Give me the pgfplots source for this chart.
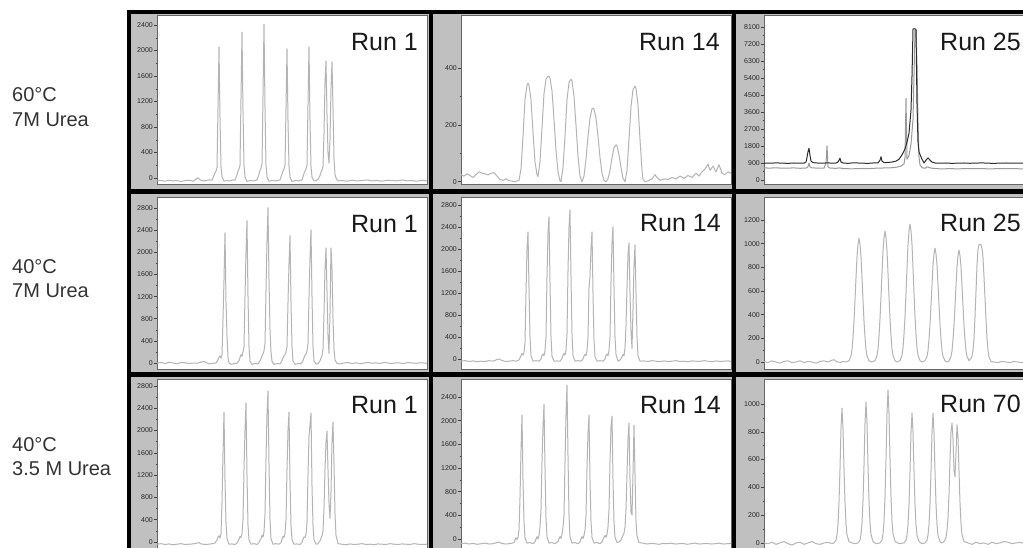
\documentclass[border=0pt]{standalone}
\usepackage{fontspec}
\setmainfont{Liberation Sans}
\usepackage{pgfplots}
\pgfplotsset{compat=1.18}
\definecolor{stripgray}{RGB}{192,192,192}
\definecolor{tracegray}{RGB}{180,180,180}
\definecolor{darktrace}{RGB}{45,45,45}
\pgfplotsset{
  panel/.style={
    scale only axis, width=270pt, anchor=south west,
    axis background/.style={fill=white},
    axis line style={draw=black!60, line width=0.6pt},
    xtick=\empty, ytick pos=left, tick align=outside,
    major tick length=3pt, minor tick length=1.5pt, minor y tick num=1,
    every tick/.style={black!75, line width=0.5pt},
    yticklabel style={font=\fontsize{7}{8}\selectfont, text=black!85, inner sep=1pt},
    /pgf/number format/1000 sep={},
    /pgf/number format/assume math mode=true,
    enlargelimits=false, clip=true,
  },
  col1/.style={xmin=157, xmax=427},
  col2/.style={xmin=461, xmax=731},
  col3/.style={xmin=764, xmax=1034},
  trace/.style={color=tracegray, line width=1pt, mark=none, line join=round},
}
\begin{document}
\begin{tikzpicture}
\begin{scope}
\clip (0pt,0pt) rectangle (1023pt,-548pt);
\fill[stripgray] (127pt,-10pt) rectangle (1023pt,-548pt);

% ---------------- Row 1 ----------------
\begin{axis}[panel, col1, at={(157pt,-184pt)}, height=169pt,
  ymin=-94, ymax=2557, ytick={0,400,...,2400}]
\addplot[trace] coordinates {
(157,-45)(161,-40)(165,-50)(169,-35)(173,-45)(177,-40)(181,-55)(185,-40)(189,-35)(193,-50)(196,-20)(198,5)(200,-30)(203,-45)(206,-40)(209,-30)
(212,-35)(214,40)(215,80)(216,110)(217,160)(218,1100)(219,2055)(220,950)(221,180)(222,20)(224,-50)
(227,-40)(230,-45)(233,-30)
(235,-35)(237,50)(238,110)(239,140)(240,200)(241,1250)(242,2290)(243,1050)(244,200)(245,20)(247,-55)
(250,-40)(254,-45)
(257,-30)(259,60)(260,120)(261,150)(262,220)(263,1300)(264,2415)(265,1100)(266,200)(267,20)(269,-50)
(272,-40)(276,-45)
(280,-30)(282,60)(283,110)(284,140)(285,200)(286,1100)(287,2024)(288,900)(289,180)(290,15)(292,-55)
(295,-40)(299,-45)
(302,-30)(304,70)(305,110)(306,140)(307,200)(308,1150)(309,2055)(310,900)(311,180)(312,15)(314,-45)
(316,-40)(318,-20)
(320,40)(321,90)(322,120)(323,180)(324,700)(325,1500)(326,1835)(327,1000)(328,400)(329,235)(330,600)(331,1400)(332,1820)(333,1100)(334,300)(335,60)(336,0)(338,-45)
(342,-40)(347,-50)(352,-35)(357,-45)(362,-40)(367,-30)(372,-45)(377,-40)(382,-50)(387,-35)(392,-40)(397,-45)(402,-30)(407,-45)(412,-40)(417,-50)(422,-35)(427,-45)
};
\end{axis}

\begin{axis}[panel, col2, at={(461pt,-184pt)}, height=169pt,
  ymin=-8, ymax=588, ytick={0,200,400}]
\addplot[trace] coordinates {
(461,25)(464,20)(467,28)(470,22)(473,15)(476,25)(479,35)(482,30)(485,28)(488,24)(491,30)(494,32)(497,20)(500,8)(503,5)(506,10)(509,4)(512,2)(515,0)(517,3)
(519,5)(521,45)(523,160)(525,290)(527,340)(528,347)(529,340)(531,290)(533,175)(535,70)(537,25)(538,18)
(540,70)(542,190)(544,310)(546,362)(548,372)(549,372)(550,365)(552,320)(554,220)(556,110)(558,35)(560,3)(561,0)
(563,50)(565,160)(567,290)(569,350)(571,361)(572,356)(574,300)(576,200)(578,90)(580,20)(582,0)
(584,20)(586,80)(588,160)(590,225)(592,257)(593,260)(594,256)(596,225)(598,160)(600,85)(602,30)(604,5)(606,0)
(608,10)(610,40)(612,85)(614,120)(616,130)(617,126)(619,95)(621,50)(623,12)(625,0)
(627,40)(629,150)(631,265)(633,325)(635,337)(636,330)(638,270)(640,150)(642,40)(643,8)(645,0)
(648,3)(652,10)(655,25)(657,15)(660,5)(664,10)(668,8)(672,15)(676,10)(680,20)(684,12)(688,22)(692,15)(696,30)(699,20)(702,35)(705,45)(708,62)(710,40)(713,55)(716,35)(719,60)(722,30)(725,25)(728,35)(731,30)
};
\end{axis}

\begin{axis}[panel, col3, at={(764pt,-184pt)}, height=169pt,
  ymin=-212, ymax=8735, ytick={0,900,...,8100}]
\addplot[trace, color=tracegray!85!black] coordinates {
(764,640)(770,630)(776,645)(782,625)(788,630)(794,640)(800,620)(806,630)(808,700)(809,900)(810,700)(812,640)(818,630)(824,625)(826,900)(827,1800)(828,700)(830,625)(836,620)(840,640)(842,610)(846,600)(852,590)(856,600)(862,610)(868,600)(874,620)(880,630)(886,640)(892,650)(897,680)(901,740)(904,850)(905,1200)(906,4320)(907,1100)(909,1300)(911,1900)(913,3200)(915,7950)(916,7950)(917,6100)(918,3000)(919,1200)(920,800)(922,650)(925,620)(927,700)(930,640)(936,600)(942,590)(950,600)(958,590)(966,605)(974,595)(982,600)(990,590)(998,600)(1006,595)(1014,600)(1022,590)(1034,595)
};
\addplot[trace, color=darktrace, line width=1pt] coordinates {
(764,900)(770,890)(776,905)(782,895)(788,880)(794,900)(800,890)(804,895)(806,950)(807,1200)(808,1500)(809,1680)(810,1300)(811,1000)(813,920)(817,900)(822,890)(827,905)(832,895)(836,900)(838,950)(840,1150)(841,950)(843,900)(848,880)(853,910)(858,900)(863,890)(868,880)(873,900)(878,900)(880,1050)(881,1230)(882,1000)(884,920)(888,930)(892,950)(896,1000)(899,1100)(901,1250)(903,1430)(905,1650)(907,2000)(909,2480)(911,3700)(912,5500)(913,7990)(914,8010)(915,8000)(916,7950)(917,4000)(918,2000)(919,1500)(920,1350)(922,1100)(924,900)(926,1050)(928,1170)(930,1050)(932,950)(935,900)(940,890)(946,900)(952,880)(958,895)(964,900)(970,885)(976,895)(982,905)(988,890)(994,880)(1000,895)(1006,900)(1012,890)(1018,895)(1024,890)(1034,900)
};
\end{axis}

% ---------------- Row 2 ----------------
\begin{axis}[panel, col1, at={(157pt,-369pt)}, height=172pt,
  ymin=-108, ymax=2999, ytick={0,400,...,2800}]
\addplot[trace] coordinates {
(157,0)(161,10)(165,-10)(169,15)(173,0)(177,-15)(181,10)(185,5)(189,-10)(193,0)(197,-5)(201,15)(204,30)(206,10)(209,-15)(213,-5)
(216,0)(218,60)(219,100)(220,130)(221,90)(222,150)(223,800)(224,1500)(225,2353)(226,1100)(227,500)(228,100)(229,0)(231,-25)
(234,-10)(237,-5)
(239,40)(240,100)(241,150)(242,120)(243,200)(244,300)(245,1200)(246,2000)(247,2570)(248,1200)(249,300)(250,30)(252,-25)
(255,-10)(258,-15)
(260,40)(261,80)(262,130)(263,160)(264,220)(265,350)(266,1300)(267,2200)(268,2805)(269,1500)(270,600)(271,200)(272,30)(274,-25)
(277,-10)(280,-15)
(282,40)(283,90)(284,130)(285,150)(286,200)(287,300)(288,1100)(289,1800)(290,2300)(291,1100)(292,300)(293,40)(295,-25)
(298,-10)(301,-15)
(303,40)(304,100)(305,140)(306,160)(307,220)(308,350)(309,1200)(310,1900)(311,2407)(312,1200)(313,300)(314,40)(316,-20)
(318,-10)
(320,40)(321,90)(322,130)(323,250)(324,900)(325,1700)(326,2080)(327,1300)(328,500)(329,175)(330,900)(331,2080)(332,1700)(333,800)(334,250)(335,60)(337,-10)
(340,-15)(344,0)(348,10)(352,-10)(356,5)(360,-15)(364,0)(368,10)(372,-5)(376,5)(380,-10)(384,10)(388,0)(392,-10)(396,5)(400,0)(404,-10)(408,10)(412,0)(416,-5)(420,5)(424,0)(427,-5)
};
\end{axis}

\begin{axis}[panel, col2, at={(461pt,-369pt)}, height=172pt,
  ymin=-182, ymax=2945, ytick={0,400,...,2800}]
\addplot[trace] coordinates {
(461,-40)(465,-30)(469,-45)(473,-35)(477,-50)(481,-40)(485,-45)(489,-30)(493,-40)(497,-10)(499,0)(501,-20)(505,-45)(509,-40)(513,-30)(516,-40)
(519,-20)(520,20)(521,60)(522,100)(523,70)(524,120)(525,300)(526,1200)(527,2000)(528,2309)(529,1300)(530,400)(531,60)(533,-40)
(536,-30)(539,-40)
(541,0)(542,60)(543,90)(544,60)(545,150)(546,400)(547,1500)(548,2300)(549,2582)(550,1400)(551,400)(552,50)(554,-40)
(557,-35)(560,-40)
(562,10)(563,70)(564,100)(565,70)(566,160)(567,450)(568,1600)(569,2400)(570,2709)(571,1500)(572,450)(573,60)(575,-40)
(578,-30)(581,-40)
(583,0)(584,50)(585,80)(586,60)(587,150)(588,400)(589,1300)(590,1500)(591,2000)(592,2309)(593,1200)(594,350)(595,40)(597,-40)
(600,-30)(603,-40)
(605,0)(606,60)(607,90)(608,60)(609,150)(610,400)(611,1400)(612,2100)(613,2400)(614,1300)(615,400)(616,80)(618,-40)
(620,-20)(622,40)(623,80)(624,60)(625,200)(626,600)(627,1300)(628,1900)(629,2109)(630,1200)(631,500)(632,195)(633,900)(634,1700)(635,2073)(636,1200)(637,400)(638,60)(640,-40)
(644,-35)(648,-45)(652,-30)(656,-40)(660,-50)(664,-35)(668,-45)(672,-40)(676,-30)(680,-45)(684,-40)(688,-50)(692,-35)(696,-40)(700,-45)(704,-30)(708,-40)(712,-50)(716,-35)(720,-45)(724,-40)(728,-35)(731,-45)
};
\end{axis}

\begin{axis}[panel, col3, at={(764pt,-369pt)}, height=172pt,
  ymin=-59, ymax=1394, ytick={0,200,...,1200}]
\addplot[trace] coordinates {
(764,5)(768,-5)(772,10)(776,0)(780,-10)(784,5)(788,10)(792,-5)(796,0)(800,10)(804,-5)(808,5)(812,0)(816,-10)(820,5)(824,10)(828,0)(832,15)(834,20)(836,5)(840,-5)(843,5)(846,0)
(849,10)(851,52)(852,105)(853,209)(854,345)(855,523)(856,711)(857,889)(858,994)(859,1046)(860,994)(861,889)(862,711)(863,523)(864,345)(865,209)(866,105)(867,52)(869,10)(872,0)
(875,11)(877,55)(878,110)(879,221)(880,365)(881,552)(882,751)(883,939)(884,1050)(885,1105)(886,1050)(887,939)(888,751)(889,552)(890,365)(891,221)(892,110)(893,55)(895,11)(897,0)
(900,12)(902,58)(903,116)(904,233)(905,384)(906,582)(907,792)(908,990)(909,1107)(910,1165)(911,1107)(912,990)(913,792)(914,582)(915,384)(916,233)(917,116)(918,58)(920,12)(922,0)
(925,10)(927,48)(928,96)(929,192)(930,317)(931,481)(932,654)(933,818)(934,914)(935,962)(936,914)(937,818)(938,654)(939,481)(940,317)(941,192)(942,96)(943,48)(945,10)(947,0)
(949,9)(951,47)(952,95)(953,189)(954,312)(955,472)(956,643)(957,803)(958,898)(959,945)(960,898)(961,803)(962,643)(963,472)(964,312)(965,189)(966,95)(967,47)(969,12)
(971,30)(972,50)(973,100)(974,200)(975,380)(976,600)(977,820)(978,950)(979,990)(980,996)(981,990)(982,960)(983,880)(984,720)(985,540)(986,360)(987,200)(988,100)(989,40)(991,5)
(994,0)(998,-5)(1002,5)(1006,0)(1010,-5)(1014,5)(1018,0)(1022,-5)(1026,5)(1034,0)
};
\end{axis}

% ---------------- Row 3 ----------------
\begin{axis}[panel, col1, at={(157pt,-551pt)}, height=172pt,
  ymin=-162, ymax=2926, ytick={0,400,...,2800}]
\addplot[trace] coordinates {
(157,-40)(161,-30)(165,-45)(169,-35)(173,-50)(177,-40)(181,-30)(185,-45)(189,-40)(193,-35)(197,-20)(199,-10)(201,-35)(205,-45)(209,-40)(212,-30)
(215,-20)(217,40)(218,90)(219,110)(220,70)(221,150)(222,700)(223,1600)(224,2332)(225,1100)(226,350)(227,60)(229,-40)
(232,-35)(235,-45)
(237,-20)(239,50)(240,100)(241,80)(242,150)(243,400)(244,1300)(245,2000)(246,2493)(247,1200)(248,300)(249,40)(251,-40)
(254,-30)(257,-45)
(259,-10)(261,60)(262,120)(263,90)(264,180)(265,500)(266,1500)(267,2300)(268,2709)(269,1400)(270,400)(271,60)(273,-40)
(276,-30)(279,-40)
(281,-10)(282,50)(283,100)(284,80)(285,150)(286,400)(287,1300)(288,2000)(289,2332)(290,1100)(291,300)(292,40)(294,-40)
(297,-35)(300,-45)
(302,-10)(303,50)(304,90)(305,80)(306,140)(307,350)(308,1200)(309,1900)(310,2100)(311,2314)(312,1000)(313,300)(314,40)(316,-40)
(318,-30)
(320,20)(321,70)(322,110)(323,200)(324,600)(325,1300)(326,1800)(327,1991)(328,1300)(329,700)(330,425)(331,900)(332,1800)(333,2152)(334,1400)(335,500)(336,120)(338,-30)
(342,-40)(346,-50)(350,-35)(354,-45)(358,-40)(362,-30)(366,-45)(370,-40)(374,-50)(378,-35)(382,-40)(386,-45)(390,-30)(394,-40)(398,-45)(402,-35)(406,-40)(410,-45)(414,-30)(418,-40)(422,-45)(427,-40)
};
\end{axis}

\begin{axis}[panel, col2, at={(461pt,-551pt)}, height=172pt,
  ymin=-203, ymax=2704, ytick={0,400,...,2400}]
\addplot[trace] coordinates {
(461,-80)(465,-70)(469,-85)(473,-75)(477,-90)(481,-80)(485,-70)(489,-85)(493,-80)(497,-60)(499,-50)(501,-70)(505,-85)(509,-80)(512,-70)
(514,-60)(515,-20)(516,20)(517,-10)(518,30)(519,150)(520,700)(521,1500)(522,2093)(523,1000)(524,300)(525,20)(527,-70)
(530,-60)(533,-80)
(535,-50)(536,0)(537,40)(538,0)(539,60)(540,200)(541,500)(542,1300)(543,1900)(544,2278)(545,1200)(546,350)(547,40)(549,-70)
(552,-60)(555,-80)
(558,-40)(559,0)(560,40)(561,10)(562,80)(563,200)(564,400)(565,1300)(566,2100)(567,2599)(568,1400)(569,400)(570,40)(572,-70)
(575,-60)(578,-80)
(580,-50)(581,0)(582,40)(583,10)(584,60)(585,150)(586,400)(587,1200)(588,1800)(589,2093)(590,1000)(591,300)(592,30)(594,-70)
(597,-60)(600,-80)
(602,-50)(603,-10)(604,30)(605,60)(606,30)(607,80)(608,200)(609,500)(610,1300)(611,1900)(612,2076)(613,1000)(614,300)(615,30)(617,-60)
(619,-50)(621,-20)
(622,20)(623,60)(624,100)(625,200)(626,500)(627,1100)(628,1700)(629,1958)(630,1000)(631,450)(632,405)(633,1100)(634,1924)(635,1100)(636,300)(637,50)(639,-60)
(643,-70)(647,-85)(651,-75)(655,-80)(659,-90)(663,-75)(667,-80)(671,-70)(675,-85)(679,-80)(683,-75)(687,-90)(691,-80)(695,-70)(699,-85)(703,-80)(707,-75)(711,-85)(715,-80)(719,-70)(723,-85)(727,-80)(731,-75)
};
\end{axis}

\begin{axis}[panel, col3, at={(764pt,-551pt)}, height=172pt,
  ymin=-58, ymax=1180, ytick={0,200,...,1000}]
\addplot[trace] coordinates {
(764,0)(768,-5)(772,5)(776,-10)(780,0)(784,10)(788,-5)(792,-15)(796,0)(800,5)(804,-10)(808,0)(812,10)(816,-5)(820,-10)(824,0)(828,5)(832,-5)
(834,0)(836,20)(837,58)(838,136)(839,291)(840,534)(841,825)(842,971)(843,825)(844,534)(845,291)(846,136)(847,58)(849,10)
(852,0)(855,-5)
(858,0)(860,20)(861,61)(862,142)(863,304)(864,558)(865,862)(866,1014)(867,862)(868,558)(869,304)(870,142)(871,61)(873,10)
(876,-5)
(880,0)(882,22)(883,66)(884,154)(885,330)(886,605)(887,935)(888,1100)(889,935)(890,605)(891,330)(892,154)(893,66)(895,11)
(899,-5)
(904,0)(906,19)(907,56)(908,131)(909,281)(910,514)(911,795)(912,935)(913,795)(914,514)(915,281)(916,131)(917,56)(919,9)
(922,-5)
(925,0)(927,19)(928,56)(929,131)(930,281)(931,514)(932,795)(933,935)(934,795)(935,514)(936,281)(937,131)(938,56)(940,9)
(942,0)
(944,10)(946,40)(947,90)(948,180)(949,350)(950,600)(951,800)(952,863)(953,750)(954,520)(955,477)(956,650)(957,849)(958,760)(959,520)(960,290)(961,140)(962,60)(964,10)
(968,0)(972,-10)(976,5)(980,-5)(984,0)(988,-10)(992,5)(996,-5)(1000,0)(1004,10)(1008,5)(1012,-5)(1016,0)(1020,5)(1024,-5)(1034,0)
};
\end{axis}

% ---------------- frame lines and labels ----------------
\begin{scope}[x=1pt,y=-1pt]
\fill[black] (127,10) rectangle (1023,14);
\fill[black] (127,10) rectangle (131,548);
\fill[black] (429,10) rectangle (433,548);
\fill[black] (732,10) rectangle (736,548);
\fill[black] (127,189) rectangle (1023,194);
\fill[black] (127,372) rectangle (1023,377);

\begin{scope}[every node/.style={inner sep=0pt, font=\fontsize{20}{24}\selectfont, text=black!80, anchor=base west}]
\node at (12,102) {60°C};
\node at (12,127) {7M Urea};
\node at (12,273) {40°C};
\node at (12,297) {7M Urea};
\node at (12,451) {40°C};
\node at (12,475) {3.5 M Urea};
\end{scope}

\begin{scope}[every node/.style={inner sep=0pt, font=\fontsize{25}{30}\selectfont, text=black!90}]
\node[anchor=base east] at (418,51) {Run 1};
\node[anchor=base east] at (720,51) {Run 14};
\node[anchor=base west] at (940,51) {Run 25};
\node[anchor=base east] at (418,233) {Run 1};
\node[anchor=base east] at (721,232) {Run 14};
\node[anchor=base west] at (940,232) {Run 25};
\node[anchor=base east] at (418,413) {Run 1};
\node[anchor=base east] at (721,413) {Run 14};
\node[anchor=base west] at (940,412) {Run 70};
\end{scope}
\end{scope}
\end{scope}
\pgfresetboundingbox
\useasboundingbox (0pt,0pt) rectangle (1023pt,-548pt);
\end{tikzpicture}
\end{document}
